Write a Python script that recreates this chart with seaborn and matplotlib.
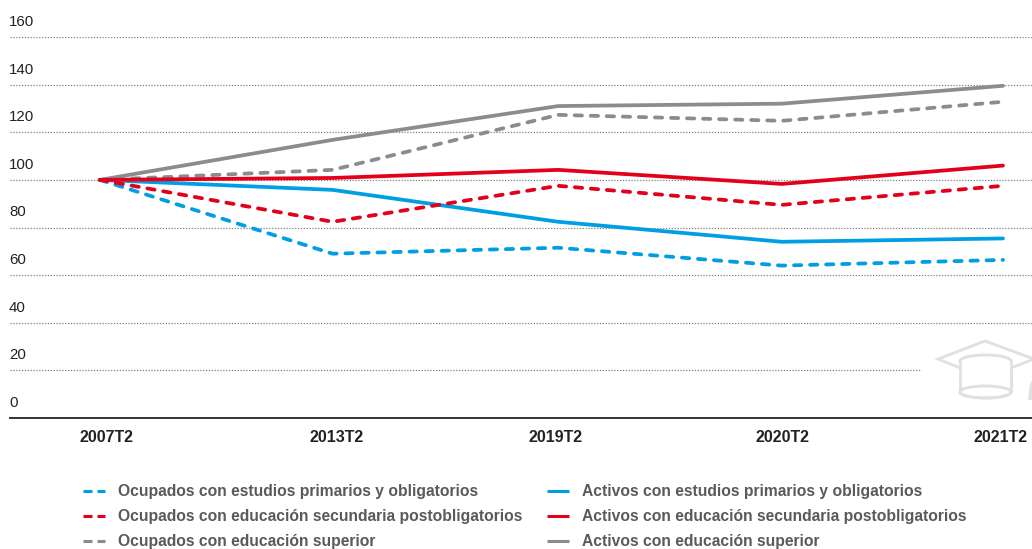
import matplotlib
matplotlib.use("Agg")
import matplotlib.pyplot as plt
from matplotlib.patches import Polygon, Ellipse, Rectangle
from matplotlib.lines import Line2D
from matplotlib.transforms import ScaledTranslation
import seaborn as sns
import pandas as pd

periods = ["2007T2", "2013T2", "2019T2", "2020T2", "2021T2"]
period_x = [0, 1.03, 2.03, 3.02, 4]
ocu_prim = [100, 69, 71.5, 64, 66.4]
act_prim = [100, 95.8, 82.4, 74, 75.4]
ocu_sec = [100, 82.4, 97.5, 89.5, 97.5]
act_sec = [100, 100.8, 104.2, 98.3, 106]
ocu_sup = [100, 104.2, 127.3, 124.8, 132.8]
act_sup = [100, 116.8, 131, 132, 139.5]
yticks = [0, 20, 40, 60, 80, 100, 120, 140, 160]

BLUE, RED, GREY = "#009fe3", "#e2001a", "#8c8c8c"
series = [
    ("Ocupados con estudios primarios y obligatorios", ocu_prim, BLUE, True),
    ("Ocupados con educación secundaria postobligatorios", ocu_sec, RED, True),
    ("Ocupados con educación superior", ocu_sup, GREY, True),
    ("Activos con estudios primarios y obligatorios", act_prim, BLUE, False),
    ("Activos con educación secundaria postobligatorios", act_sec, RED, False),
    ("Activos con educación superior", act_sup, GREY, False),
]

sns.set_theme(style="white")
plt.rcParams["font.family"] = ["Liberation Sans", "DejaVu Sans"]

W, H = 1032, 549
fig = plt.figure(figsize=(W / 100, H / 100), dpi=100)
ax = fig.add_axes([10 / W, 1 - 418 / H, 1022 / W, 381 / H])

x0, x1 = (100 - 10) / 1022, (1003 - 10) / 1022
span = 4
xmin = -x0 / (x1 - x0) * span
xmax = xmin + span / (x1 - x0)
ax.set_xlim(xmin, xmax)
ax.set_ylim(0, 160)

for y in yticks[1:]:
    ax.axhline(y, color="#808080", lw=0.9, ls=(0, (1, 1.3)), zorder=1)


def P(x, y):
    return (x / W, 1 - y / H)


ic = "#e0e0e0"
tf = fig.transFigure
ax.add_patch(Rectangle(P(921, 400), 111 / W, 60 / H, transform=tf, fc="white", ec="none", zorder=2))
ax.add_patch(Polygon([P(938, 359), P(985, 341), P(1034, 359), P(985, 378)], closed=True,
                     transform=tf, fc="white", ec=ic, lw=2, zorder=2.1))
ax.add_patch(Ellipse(P(985.5, 361), 51 / W, 12 / H, transform=tf, fc="white", ec=ic, lw=2, zorder=2.2))
ax.add_patch(Ellipse(P(985.5, 392), 51 / W, 12 / H, transform=tf, fc="white", ec=ic, lw=2, zorder=2.2))
ax.add_patch(Rectangle(P(961, 392), 49 / W, 31 / H, transform=tf, fc="white", ec="none", zorder=2.3))
ax.add_patch(Ellipse(P(985.5, 392), 51 / W, 12 / H, transform=tf, fc="none", ec=ic, lw=2, zorder=2.4))
ax.add_line(Line2D([960 / W, 960 / W], [1 - 361 / H, 1 - 392 / H], transform=tf, color=ic, lw=2, zorder=2.4))
ax.add_line(Line2D([1011 / W, 1011 / W], [1 - 361 / H, 1 - 392 / H], transform=tf, color=ic, lw=2, zorder=2.4))
ax.add_patch(Polygon([P(1028, 400), P(1030, 384), P(1032, 381), P(1032, 400)], closed=True,
                     transform=tf, fc=ic, ec="none", zorder=2.4))

DASH = (0, (1.95, 2.33))
for i in [2, 5, 0, 3, 1, 4]:
    label, vals, col, dashed = series[i]
    df = pd.DataFrame({"periodo": period_x, "valor": vals})
    sns.lineplot(data=df, x="periodo", y="valor", color=col, lw=2.7,
                 linestyle=DASH if dashed else "-", ax=ax, zorder=3, legend=False,
                 errorbar=None, solid_capstyle="round", dash_capstyle="round")

ax.set_xlabel("")
ax.set_ylabel("")
ax.set_xticks(period_x, periods)
ax.set_yticks(yticks, [str(v) for v in yticks])
ax.tick_params(axis="y", left=False, length=0, pad=0.7, labelsize=10.8, labelcolor="#222222")
ax.tick_params(axis="x", bottom=False, length=0, pad=8.3, labelsize=11.5, labelcolor="#222222")
for lab in ax.get_yticklabels():
    lab.set_ha("left")
    lab.set_va("center")
    lab.set_transform(lab.get_transform() + ScaledTranslation(0, 15 / 100, fig.dpi_scale_trans))
for lab, dx in zip(ax.get_xticklabels(), [6, 4, -3, 1, -2]):
    lab.set_fontweight("bold")
    lab.set_transform(lab.get_transform() + ScaledTranslation(dx / 100, 0, fig.dpi_scale_trans))
sns.despine(ax=ax, top=True, right=True, left=True)
ax.spines["bottom"].set_color("#333333")
ax.spines["bottom"].set_linewidth(1.4)


def legend_col(idx, xline, xtext):
    for j, i in enumerate(idx):
        label, vals, col, dashed = series[i]
        yp = 491 + j * 25
        fig.add_artist(Line2D([xline / W, (xline + 22) / W], [1 - yp / H] * 2, color=col, lw=2.2,
                              ls=(0, (2.95, 1.64)) if dashed else "-",
                              dash_capstyle="butt", solid_capstyle="butt"))
        fig.text(xtext / W, 1 - (yp + 0.7) / H, label, ha="left", va="center", fontsize=11.26,
                 fontweight="bold", color="#5a5a5a")


legend_col([0, 1, 2], 83, 118)
legend_col([3, 4, 5], 547, 582)

fig.savefig("out.png", dpi=100, facecolor="white")
